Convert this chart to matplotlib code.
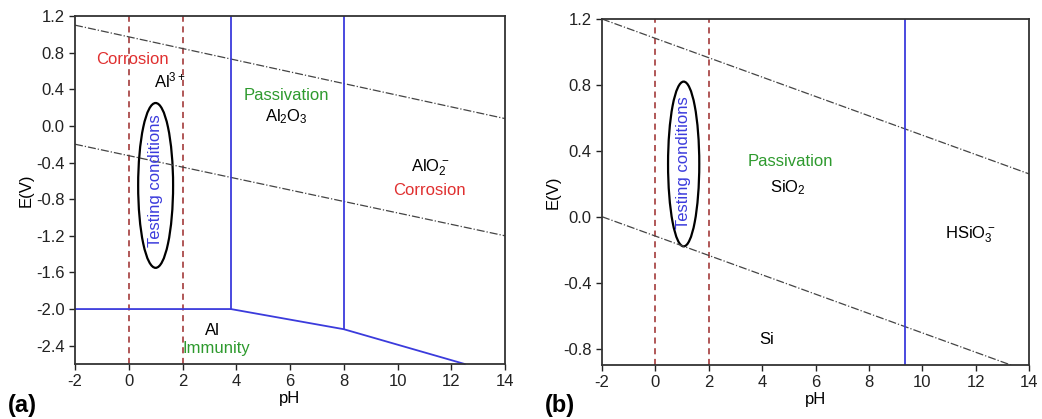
import matplotlib.pyplot as plt
from matplotlib.patches import Ellipse

plt.rcParams["font.family"] = ["Liberation Sans", "DejaVu Sans"]
plt.rcParams["mathtext.fontset"] = "custom"
plt.rcParams["mathtext.rm"] = "Liberation Sans"
plt.rcParams["mathtext.default"] = "regular"
plt.rcParams["axes.unicode_minus"] = False

# Panel (a): Al Pourbaix diagram
a_water_hi_ph = [-2, 14]
a_water_hi_e = [1.1, 0.08]
a_water_lo_ph = [-2, 14]
a_water_lo_e = [-0.2, -1.2]
a_base_ph = [-2, 3.8, 8.0, 12.5]
a_base_e = [-2.0, -2.0, -2.22, -2.6]
a_vert_ph = [3.8, 8.0]
a_vert_bottom = [-2.0, -2.22]
a_ylim = (-2.6, 1.2)
a_yticks = [-2.4, -2.0, -1.6, -1.2, -0.8, -0.4, 0.0, 0.4, 0.8, 1.2]

# Panel (b): Si Pourbaix diagram
b_water_hi_ph = [-2, 14]
b_water_hi_e = [1.2, 0.26]
b_water_lo_ph = [-2, 14]
b_water_lo_e = [0.0, -0.94]
b_vert_ph = [9.36]
b_ylim = (-0.9, 1.2)
b_yticks = [-0.8, -0.4, 0.0, 0.4, 0.8, 1.2]

test_ph = [0, 2]
xticks = [-2, 0, 2, 4, 6, 8, 10, 12, 14]

BLUE = "#3b3bdc"
RED = "#9b2a2a"
GREEN = "#2e9a2e"
TXTRED = "#e03030"
FS = 12

fig = plt.figure(figsize=(10.42, 4.19), dpi=100)
ax1 = fig.add_axes([75 / 1042, 1 - 364 / 419, 430 / 1042, 348 / 419])
ax2 = fig.add_axes([602 / 1042, 1 - 365 / 419, 427 / 1042, 346 / 419])


def style(ax, ylim, yticks):
    ax.set_xlim(-2, 14)
    ax.set_ylim(*ylim)
    ax.set_xticks(xticks)
    ax.set_yticks(yticks)
    ax.set_yticklabels([f"{v:.1f}" for v in yticks])
    ax.tick_params(direction="out", length=4, width=1, labelsize=FS, colors="#222222")
    for s in ax.spines.values():
        s.set_linewidth(1.3)
        s.set_color("#333333")
    ax.set_xlabel("pH", fontsize=FS, labelpad=1)
    ax.set_ylabel("E(V)", fontsize=FS, labelpad=2)
    for p in test_ph:
        ax.axvline(p, color=RED, ls=(0, (4, 3)), lw=1.1)


# (a)
style(ax1, a_ylim, a_yticks)
ax1.plot(a_water_hi_ph, a_water_hi_e, color="#444444", ls="-.", lw=0.9)
ax1.plot(a_water_lo_ph, a_water_lo_e, color="#444444", ls="-.", lw=0.9)
ax1.plot(a_base_ph, a_base_e, color=BLUE, lw=1.3, clip_on=False)
for p, b in zip(a_vert_ph, a_vert_bottom):
    ax1.plot([p, p], [b, a_ylim[1]], color=BLUE, lw=1.3)
ax1.add_patch(Ellipse((1.0, -0.65), 1.3, 1.8, fill=False, ec="black", lw=1.6))
ax1.text(1.0, -0.6, "Testing conditions", color=BLUE, rotation=90, fontsize=FS,
         ha="center", va="center")
ax1.text(0.15, 0.73, "Corrosion", color=TXTRED, fontsize=FS, ha="center", va="center")
ax1.text(1.55, 0.5, "Al$^{3+}$", fontsize=FS, ha="center", va="center")
ax1.text(5.88, 0.33, "Passivation", color=GREEN, fontsize=FS, ha="center", va="center")
ax1.text(5.85, 0.1, "Al$_2$O$_3$", fontsize=FS, ha="center", va="center")
ax1.text(11.2, -0.46, "AlO$_2^-$", fontsize=FS, ha="center", va="center")
ax1.text(11.2, -0.71, "Corrosion", color=TXTRED, fontsize=FS, ha="center", va="center")
ax1.text(3.1, -2.23, "Al", fontsize=FS, ha="center", va="center")
ax1.text(3.25, -2.43, "Immunity", color=GREEN, fontsize=FS, ha="center", va="center")

# (b)
style(ax2, b_ylim, b_yticks)
ax2.plot(b_water_hi_ph, b_water_hi_e, color="#444444", ls="-.", lw=0.9)
ax2.plot(b_water_lo_ph, b_water_lo_e, color="#444444", ls="-.", lw=0.9)
for p in b_vert_ph:
    ax2.axvline(p, color=BLUE, lw=1.3)
ax2.add_patch(Ellipse((1.06, 0.32), 1.17, 1.0, fill=False, ec="black", lw=1.6))
ax2.text(1.05, 0.33, "Testing conditions", color=BLUE, rotation=90, fontsize=FS,
         ha="center", va="center")
ax2.text(5.05, 0.335, "Passivation", color=GREEN, fontsize=FS, ha="center", va="center")
ax2.text(4.98, 0.175, "SiO$_2$", fontsize=FS, ha="center", va="center")
ax2.text(11.8, -0.11, "HSiO$_3^-$", fontsize=FS, ha="center", va="center")
ax2.text(4.18, -0.745, "Si", fontsize=FS, ha="center", va="center")

fig.text(8 / 1042, 1 - 405 / 419, "(a)", fontsize=17, fontweight="bold", va="center")
fig.text(545 / 1042, 1 - 405 / 419, "(b)", fontsize=17, fontweight="bold", va="center")

fig.savefig("out.png", dpi=100)
